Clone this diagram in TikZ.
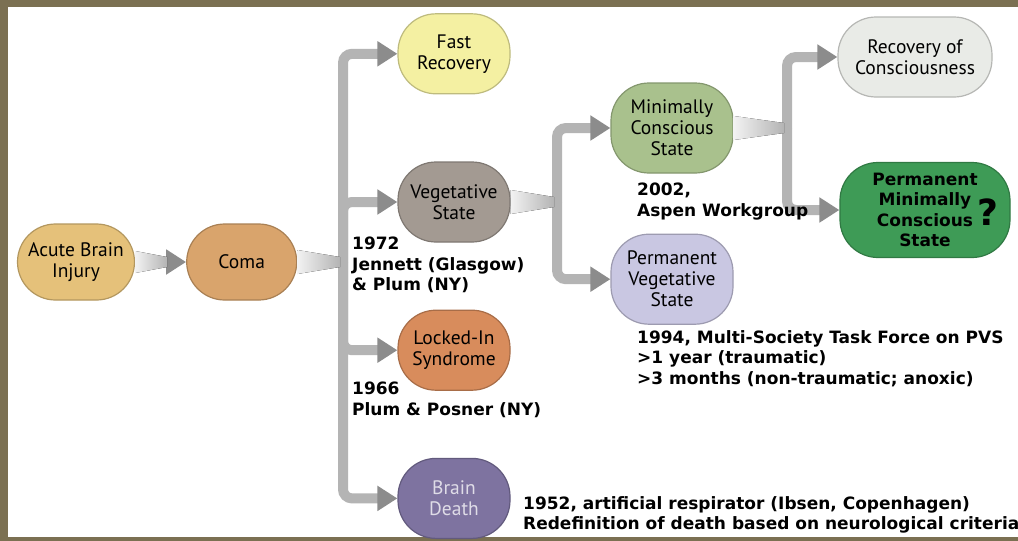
\documentclass[tikz,border=0pt]{standalone}
\usepackage{fontspec}
\setmainfont{PT Sans}
\newfontfamily\notefont{DejaVu Sans}
\usetikzlibrary{arrows.meta,positioning,calc}

\definecolor{framebrown}{HTML}{7B7052}
\definecolor{linegray}{HTML}{B4B4B4}
\definecolor{tipgray}{HTML}{8C8C8C}
\definecolor{injuryfill}{HTML}{E5C17A}
\definecolor{comafill}{HTML}{D9A46C}
\definecolor{fastfill}{HTML}{F4F0A2}
\definecolor{vegfill}{HTML}{A39A92}
\definecolor{lockedfill}{HTML}{D88C5C}
\definecolor{deathfill}{HTML}{7E73A0}
\definecolor{mcsfill}{HTML}{A9C18D}
\definecolor{pvsfill}{HTML}{C9C7E2}
\definecolor{recfill}{HTML}{E9EBE7}
\definecolor{pmcsfill}{HTML}{3E9B56}

\begin{document}
\begin{tikzpicture}[x=1pt, y=-1pt, node distance=67pt,
    state/.style={draw=#1!78!black, fill=#1, rounded corners=38pt, minimum width=112pt, minimum height=80pt, align=center, line width=1.2pt, inner sep=2pt, font=\fontsize{19.5}{21}\selectfont},
    note/.style={anchor=north west, align=left, inner sep=0pt, font=\notefont\bfseries\fontsize{17}{20.5}\selectfont},
    branch/.style={draw=linegray, line width=10pt, rounded corners=9pt, -{Triangle[length=20pt,width=24pt,color=tipgray]}},
    wedge/.style={left color=gray!10, right color=linegray}]
    % frame
    \fill[white] (0,0) rectangle (1018,541);
    \useasboundingbox (0,0) rectangle (1018,541);
    \fill[framebrown] (0,0) rectangle (1018,7);
    \fill[framebrown] (0,0) rectangle (8,541);
    \fill[framebrown] (0,537) rectangle (1018,541);

    \node[state=injuryfill, minimum width=117pt, minimum height=76pt] (abi) at (76,262) {Acute Brain\\Injury};
    \node[state=comafill, minimum width=110pt, minimum height=76pt, right=51pt of abi] (coma) {Coma};

    \node[state=vegfill] (veg) at (454,202) {Vegetative\\State};
    \node[state=fastfill, above=of veg] (fast) {Fast\\Recovery};
    \node[state=lockedfill, below=of veg] (locked) {Locked-In\\Syndrome};
    \node[state=deathfill, text=deathfill!25!white, below=of locked] (death) {Brain\\Death};

    \node[state=mcsfill, minimum width=122pt, minimum height=90pt] (mcs) at (672,128) {Minimally\\Conscious\\State};
    \node[state=pvsfill, minimum width=122pt, minimum height=90pt, below=60pt of mcs] (pvs) {Permanent\\Vegetative\\State};

    \node[state=recfill, minimum width=154pt] (rec) at (915,57) {Recovery of\\Consciousness};
    \node[state=pmcsfill, minimum width=170pt, minimum height=95pt, font=\notefont\bfseries\fontsize{17}{20.5}\selectfont] (pmcs) at (925,210)
        {Permanent\\Minimally\\Conscious\\State};
    \node[font=\notefont\bfseries\fontsize{36}{36}\selectfont, inner sep=0pt] (qmark) at ($(pmcs.east)+(-23,2)$) {?};

    % trunks
    \coordinate (t1) at (343,262);
    \coordinate (t2) at (557,202);
    \coordinate (t3) at (787,128);

    \draw[branch] (abi.east) -- (coma.west);
    \fill[wedge] ($(abi.east)+(0,-11)$) -- ($(abi.east)+(32,-5)$) -- ($(abi.east)+(32,5)$) -- ($(abi.east)+(0,11)$) -- cycle;

    \draw[branch] (t1) |- (fast.west);
    \draw[branch] (t1) |- (veg.west);
    \draw[branch] (t1) |- (locked.west);
    \draw[branch] (t1) |- (death.west);
    \fill[wedge] ($(coma.east)+(0,-12)$) -- ($(t1)+(-3,-5)$) -- ($(t1)+(-3,5)$) -- ($(coma.east)+(0,12)$) -- cycle;

    \draw[branch] (t2) |- (mcs.west);
    \draw[branch] (t2) |- (pvs.west);
    \fill[wedge] ($(veg.east)+(0,-12)$) -- ($(t2)+(-3,-5)$) -- ($(t2)+(-3,5)$) -- ($(veg.east)+(0,12)$) -- cycle;

    \draw[branch] (t3) |- (rec.west);
    \draw[branch] (t3) |- (pmcs.west);
    \fill[wedge] ($(mcs.east)+(0,-12)$) -- ($(t3)+(-3,-5)$) -- ($(t3)+(-3,5)$) -- ($(mcs.east)+(0,12)$) -- cycle;

    % dates
    \node[note] (n1972) at (352,237) {1972\\Jennett (Glasgow)\\\& Plum (NY)};
    \node[note] (n1966) at (352,382) {1966\\Plum \& Posner (NY)};
    \node[note] (n1952) at (523,496) {1952, artificial respirator (Ibsen, Copenhagen)\\Redefinition of death based on neurological criteria};
    \node[note] (n2002) at (637,183) {2002,\\Aspen Workgroup};
    \node[note] (n1994) at (637,330) {1994, Multi-Society Task Force on PVS\\>1 year (traumatic)\\>3 months (non-traumatic; anoxic)};
\end{tikzpicture}
\end{document}
